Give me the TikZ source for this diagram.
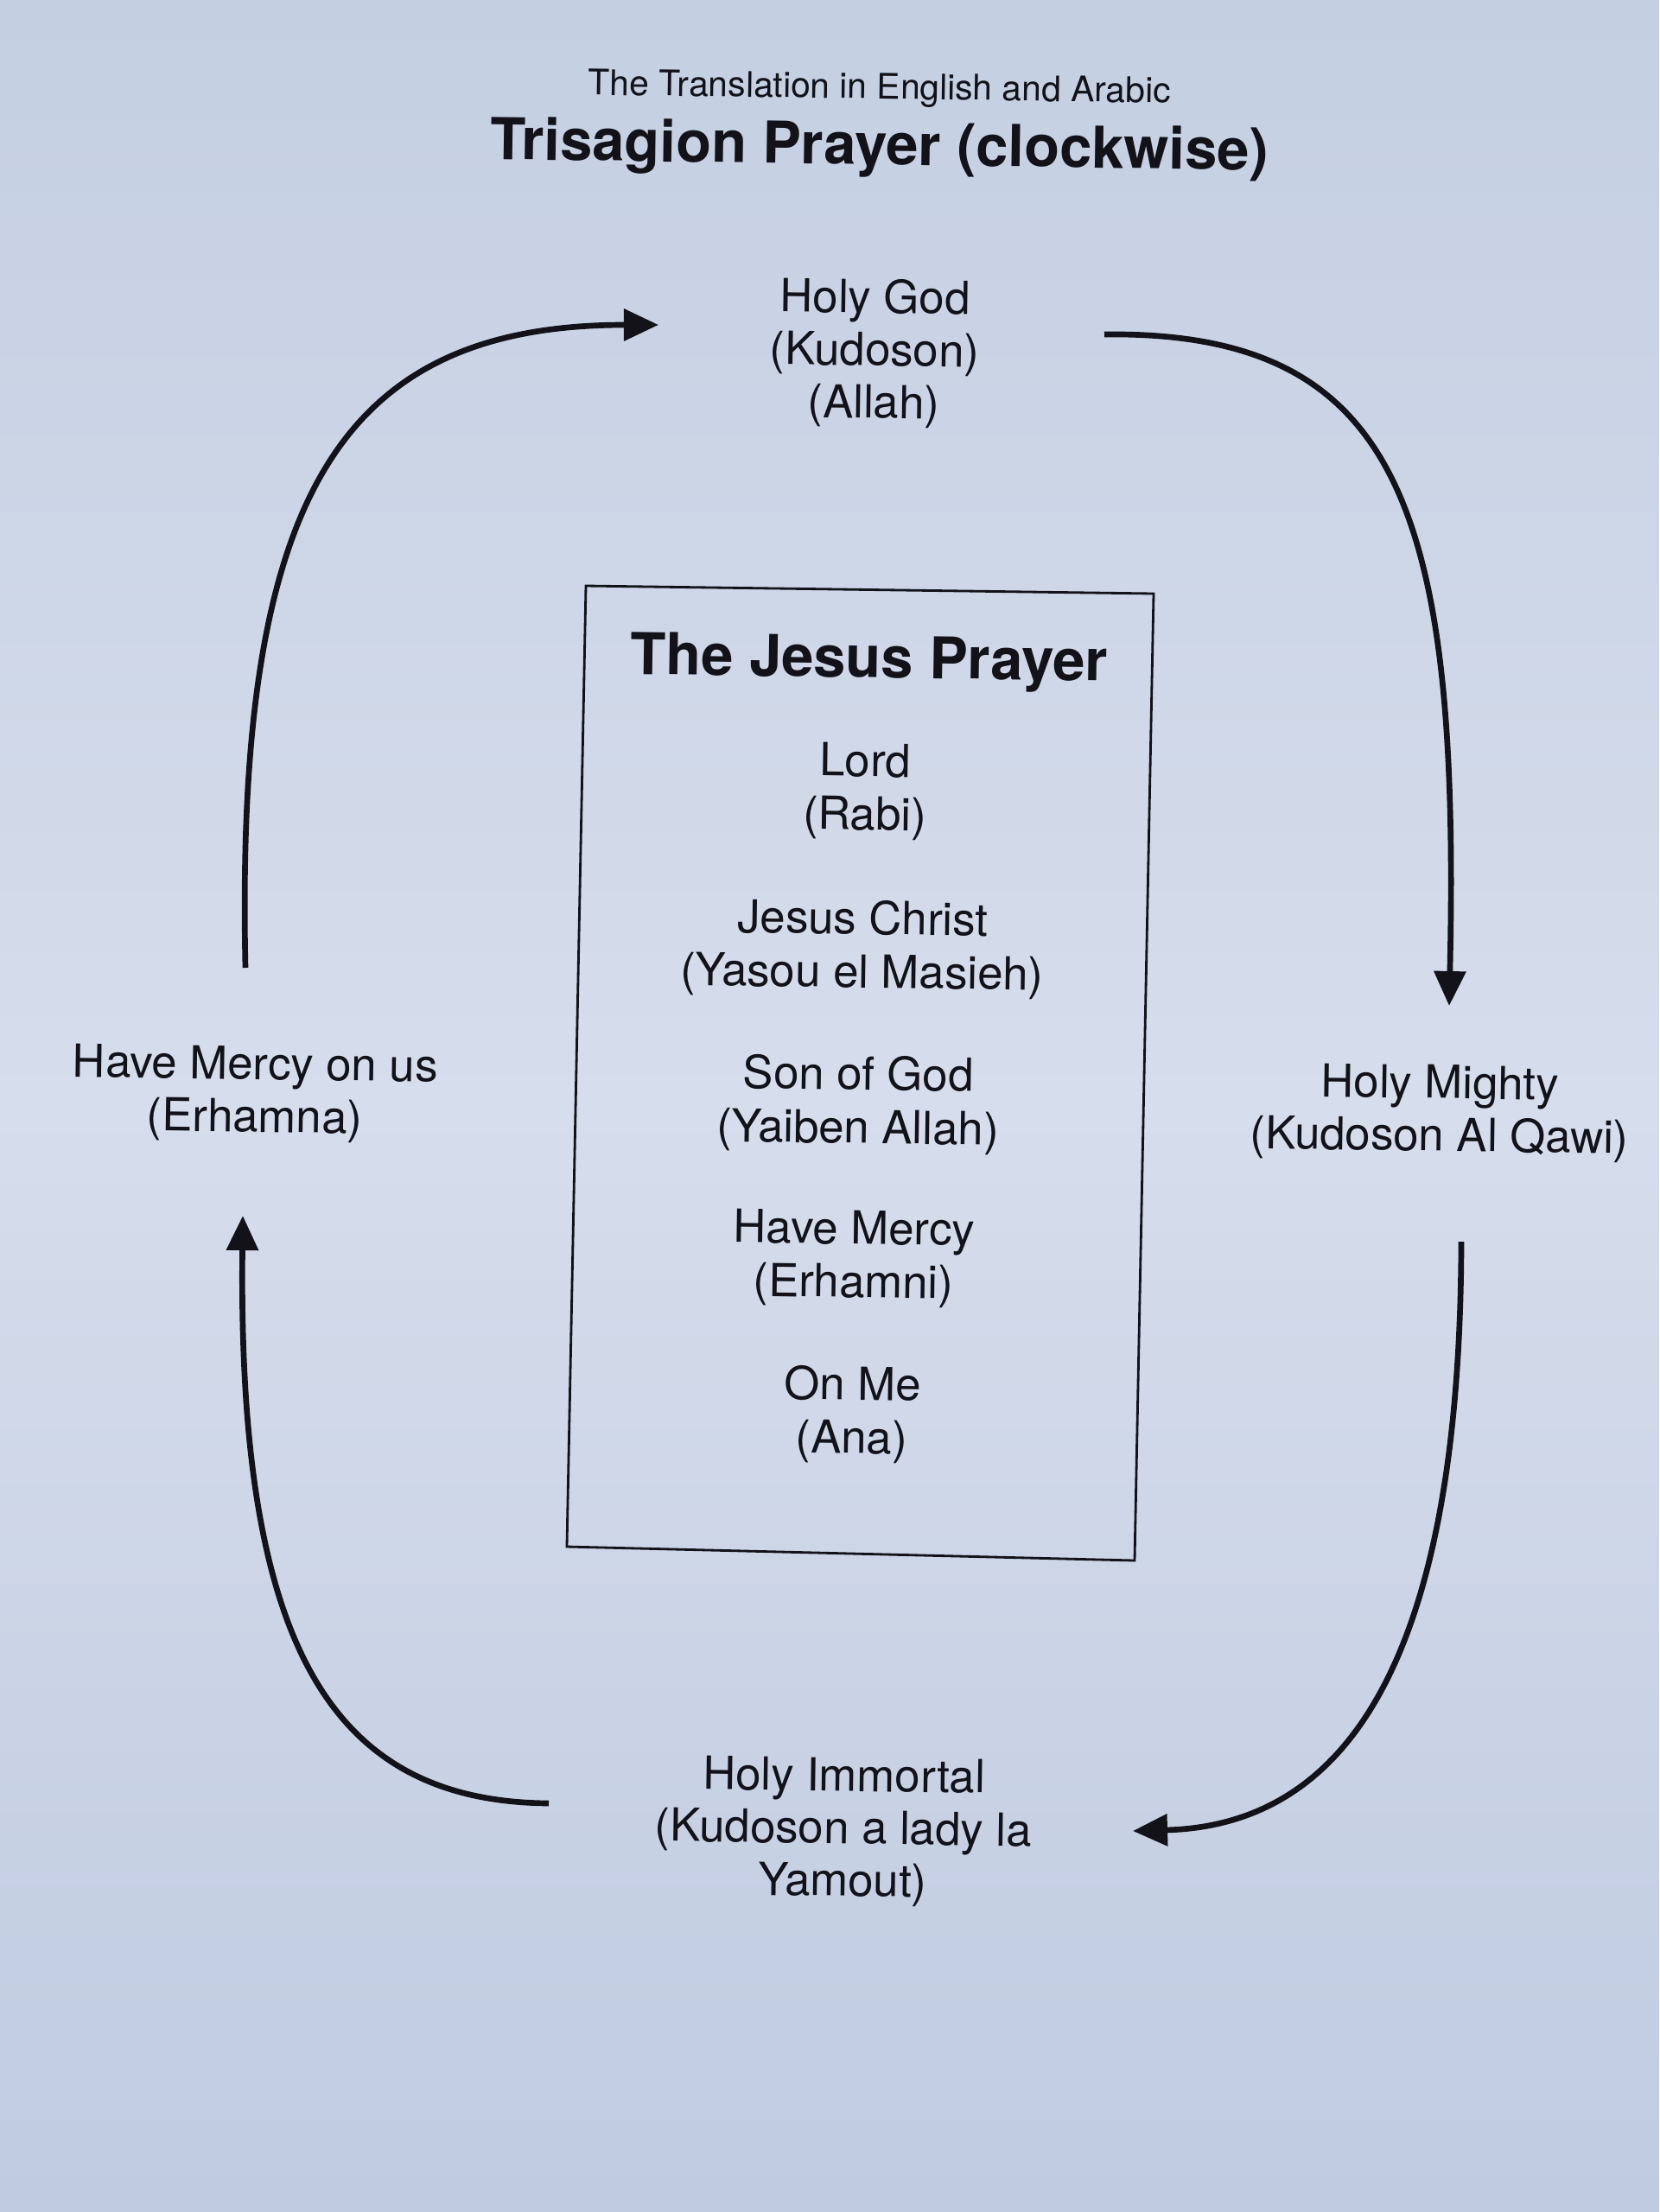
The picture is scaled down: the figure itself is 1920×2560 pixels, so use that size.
\documentclass[tikz,border=0pt]{standalone}
\usepackage{fontspec}
\setmainfont{TeX Gyre Heros}
\usetikzlibrary{arrows.meta}
\definecolor{papertop}{RGB}{196,207,226}
\definecolor{paperbot}{RGB}{192,203,224}
\definecolor{paperlight}{RGB}{214,221,236}
\definecolor{ink}{RGB}{18,18,24}
\tikzset{
  lbl/.style={text=ink, align=center, inner sep=0pt, rotate=-0.8,
    font=\fontsize{15}{17.3}\selectfont},
  boxlbl/.style={lbl, font=\fontsize{15}{17.6}\selectfont},
  bigtitle/.style={text=ink, inner sep=0pt, rotate=-0.8,
    font=\fontsize{19}{22}\selectfont\bfseries},
  smalltitle/.style={text=ink, inner sep=0pt, rotate=-0.8,
    font=\fontsize{11.6}{14}\selectfont},
  flow/.style={draw=ink, line width=1.9pt,
    -{Triangle[length=0.40cm, width=0.36cm]}},
  frame/.style={draw=ink, line width=0.8pt}
}
\begin{document}
\begin{tikzpicture}[x=0.01cm, y=-0.01cm]
\useasboundingbox (0,0) rectangle (1920,2560);
\shade[top color=papertop, bottom color=paperbot, middle color=paperlight]
  (0,0) rectangle (1920,2560);

% titles
\node[smalltitle] (sub) at (1018,104) {The Translation in English and Arabic};
\node[bigtitle] (title) at (1018,173) {Trisagion Prayer (clockwise)};

% outer cycle
\node[lbl] (god) at (1012,409) {Holy God\\(Kudoson)\\(Allah)};
\node[lbl] (mighty) at (1666,1288) {Holy Mighty\\(Kudoson Al Qawi)};
\node[lbl] (immortal) at (976,2120) {Holy Immortal\\(Kudoson a lady la\\Yamout)};
\node[lbl] (mercyus) at (295,1266) {Have Mercy on us\\(Erhamna)};

% central box
\coordinate (tl) at (678,678);
\coordinate (tr) at (1335,687);
\coordinate (br) at (1313,1806);
\coordinate (bl) at (656,1790);
\draw[frame] (tl) -- (tr) -- (br) -- (bl) -- cycle;

\node[bigtitle] (jp) at (1006,767) {The Jesus Prayer};
\node[boxlbl] (lord) at (1001,916) {Lord\\(Rabi)};
\node[boxlbl] (christ) at (998,1098) {Jesus Christ\\(Yasou el Masieh)};
\node[boxlbl] (son) at (993,1278) {Son of God\\(Yaiben Allah)};
\node[boxlbl] (mercy) at (988,1457) {Have Mercy\\(Erhamni)};
\node[boxlbl] (onme) at (986,1637) {On Me\\(Ana)};

% arrow end points
\coordinate (a1s) at (284,1120);
\coordinate (a1e) at (762,376);
\coordinate (a2s) at (1278,387);
\coordinate (a2e) at (1677,1164);
\coordinate (a3s) at (1691,1437);
\coordinate (a3e) at (1311,2119);
\coordinate (a4s) at (635,2087);
\coordinate (a4e) at (281,1407);

\draw[flow] (a1s) .. controls (272,580) and (390,376) .. (a1e);
\draw[flow] (a2s) .. controls (1620,383) and (1690,590) .. (a2e);
\draw[flow] (a3s) .. controls (1690,1900) and (1570,2112) .. (a3e);
\draw[flow] (a4s) .. controls (380,2085) and (275,1900) .. (a4e);
\end{tikzpicture}
\end{document}
